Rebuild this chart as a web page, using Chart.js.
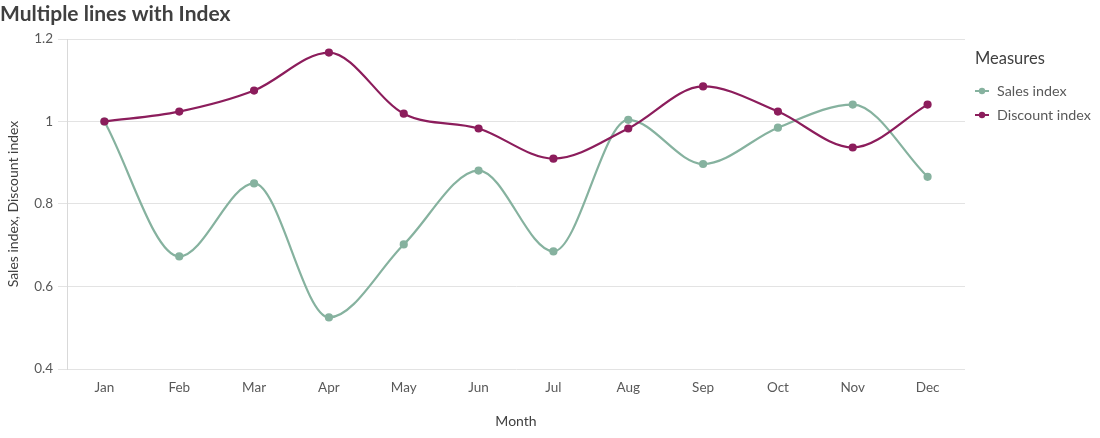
<!DOCTYPE html>
<html>
<head>
<meta charset="utf-8">
<script src="https://cdn.jsdelivr.net/npm/chart.js@4/dist/chart.umd.min.js"></script>
<style>
html,body{margin:0;padding:0;background:#fff;}
#wrap{width:1100px;height:438px;position:relative;}
</style>
</head>
<body>
<div id="wrap"><canvas id="c" width="1100" height="438"></canvas></div>
<script>
const months = ["Jan","Feb","Mar","Apr","May","Jun","Jul","Aug","Sep","Oct","Nov","Dec"];
const salesIndex = [1.0, 0.673, 0.85, 0.525, 0.702, 0.881, 0.685, 1.004, 0.897, 0.985, 1.041, 0.866];
const discountIndex = [1.0, 1.024, 1.075, 1.167, 1.019, 0.983, 0.910, 0.983, 1.085, 1.024, 0.937, 1.041];
const yTicks = [0.4, 0.6, 0.8, 1, 1.2];
const chartTitle = 'Multiple lines with Index';
const legendTitle = 'Measures';

const GREEN = '#86b29f';
const PURPLE = '#8c1d5c';
const FONT = "Lato, 'Open Sans', sans-serif";

const overlay = {
  id: 'overlay',
  afterDraw(chart){
    const ctx = chart.ctx;
    ctx.save();
    // title
    ctx.fillStyle = '#404040';
    ctx.font = "bold 21px " + FONT;
    ctx.textAlign = 'left'; ctx.textBaseline = 'middle';
    ctx.fillText(chartTitle, 0, 14);
    // legend
    ctx.font = "16.5px " + FONT;
    ctx.fillText(legendTitle, 975, 59);
    chart.data.datasets.forEach((ds, i) => {
      const y = 91 + i * 24;
      ctx.strokeStyle = ds.borderColor; ctx.lineWidth = 2;
      ctx.beginPath(); ctx.moveTo(975, y); ctx.lineTo(989, y); ctx.stroke();
      ctx.fillStyle = ds.borderColor;
      ctx.beginPath(); ctx.arc(982, y, 3.2, 0, Math.PI * 2); ctx.fill();
      ctx.fillStyle = '#595959';
      ctx.font = "14.3px " + FONT;
      ctx.fillText(ds.label, 997, y);
    });
    ctx.restore();
  }
};

new Chart(document.getElementById('c'), {
  type: 'line',
  data: {
    labels: months,
    datasets: [
      {label: 'Sales index', data: salesIndex, borderColor: GREEN, backgroundColor: GREEN, order: 1,
       pointBackgroundColor: GREEN, pointBorderColor: GREEN, pointRadius: 3, borderWidth: 2.2,
       cubicInterpolationMode: 'monotone'},
      {label: 'Discount index', data: discountIndex, borderColor: PURPLE, backgroundColor: PURPLE, order: 0,
       pointBackgroundColor: PURPLE, pointBorderColor: PURPLE, pointRadius: 3, borderWidth: 2.2,
       cubicInterpolationMode: 'monotone'}
    ]
  },
  plugins: [overlay],
  options: {
    responsive: false,
    animation: false,
    layout: {padding: {left: 0, right: 135, top: 39, bottom: 0}},
    plugins: {
      title: {display: false},
      legend: {display: false},
      tooltip: {enabled: false}
    },
    scales: {
      x: {
        offset: true,
        grid: {display: false, drawTicks: false},
        border: {display: false},
        ticks: {color: '#595959', font: {family: FONT, size: 13.5}, padding: 11},
        title: {display: true, text: 'Month', color: '#404040', font: {family: FONT, size: 14}, padding: {top: 14, bottom: 8}},
        afterFit(axis){ axis.height = 69; }
      },
      y: {
        min: 0.4, max: 1.2,
        afterBuildTicks(axis){ axis.ticks = yTicks.map(v=>({value:v})); },
        grid: {color: '#e3e3e3', tickLength: 9, lineWidth: 1},
        border: {display: true, color: '#d9d9d9', width: 1},
        ticks: {color: '#595959', font: {family: FONT, size: 13.5}, padding: 5,
          callback: v => String(Math.round(v*10)/10)},
        title: {display: true, text: 'Sales index, Discount index', color: '#404040', font: {family: FONT, size: 14}, padding: {top: 5, bottom: 0}},
        afterFit(axis){ axis.width = 67; }
      }
    }
  }
});
</script>
</body>
</html>
